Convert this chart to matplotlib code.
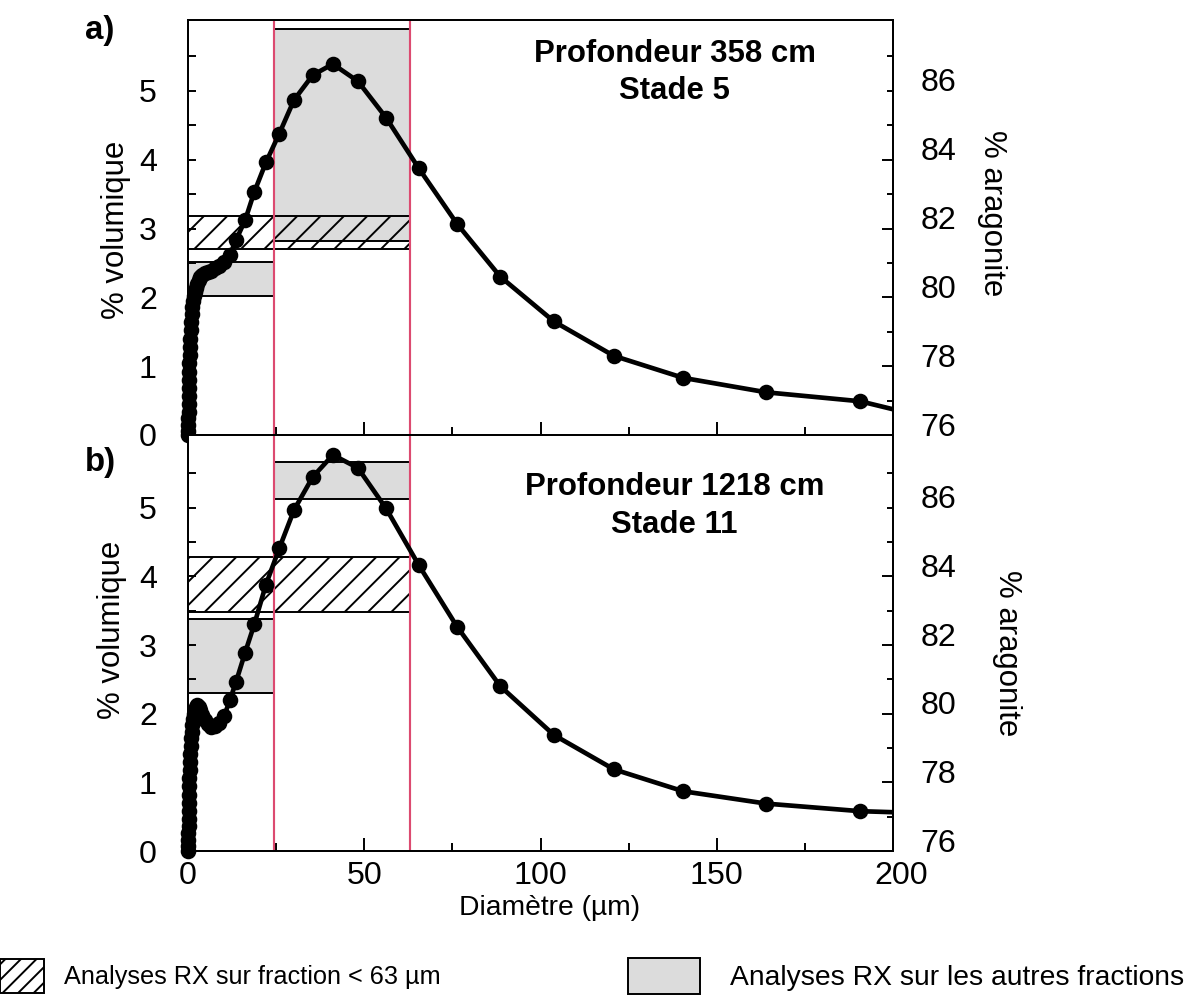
import numpy as np
import matplotlib
matplotlib.use("Agg")
import matplotlib.pyplot as plt
from matplotlib.patches import Rectangle, Patch
from matplotlib.transforms import ScaledTranslation

plt.rcParams['font.family'] = ['Liberation Sans', 'DejaVu Sans']
plt.rcParams['hatch.linewidth'] = 1.0

# diametres des classes (um)
diam = [0.08, 0.1, 0.12, 0.14, 0.16, 0.19, 0.22, 0.26, 0.3, 0.35, 0.41, 0.48,
        0.56, 0.65, 0.76, 0.88, 1.03, 1.2, 1.4, 1.63, 1.9, 2.2, 2.57, 3.0,
        3.5, 4.1, 4.8, 5.6, 6.5, 7.6, 8.8, 10.2, 11.9, 13.6, 16.2, 18.8,
        22.1, 25.9, 30.1, 35.4, 41.1, 48.2, 56.2, 65.4, 76.3, 88.6, 103.8,
        120.8, 140.5, 164.1, 190.7, 222.0]

# % volumique, profondeur 358 cm
vol_358 = [0.0, 0.06, 0.14, 0.24, 0.34, 0.45, 0.56, 0.68, 0.8, 0.92, 1.04, 1.16,
           1.28, 1.4, 1.52, 1.64, 1.76, 1.86, 1.95, 2.02, 2.08, 2.14, 2.2, 2.25,
           2.29, 2.32, 2.35, 2.37, 2.39, 2.42, 2.46, 2.52, 2.62, 2.83, 3.12, 3.53,
           3.96, 4.38, 4.87, 5.23, 5.39, 5.14, 4.61, 3.88, 3.07, 2.30, 1.65,
           1.15, 0.83, 0.62, 0.49, 0.10]

# % volumique, profondeur 1218 cm
vol_1218 = [0.0, 0.07, 0.16, 0.26, 0.36, 0.47, 0.58, 0.7, 0.82, 0.94, 1.06, 1.18,
            1.3, 1.42, 1.53, 1.64, 1.74, 1.84, 1.93, 2.0, 2.06, 2.1, 2.12, 2.1,
            2.05, 1.98, 1.91, 1.85, 1.81, 1.82, 1.87, 1.96, 2.2, 2.46, 2.89, 3.3,
            3.88, 4.41, 4.97, 5.45, 5.77, 5.58, 4.99, 4.17, 3.27, 2.40, 1.69,
            1.19, 0.87, 0.69, 0.58, 0.53]

# limites des fractions (um)
limits = [24.5, 63]

# analyses RX: (diam min, diam max, % aragonite min, % aragonite max)
gray_358 = [(0, 24.5, 80.05, 81.03), (24.5, 63, 81.64, 87.8)]
hatch_358 = [(0, 63, 81.4, 82.36)]
gray_1218 = [(24.5, 63, 86.26, 87.34), (0, 24.5, 80.6, 82.76)]
hatch_1218 = [(0, 63, 82.96, 84.58)]

titles = ["Profondeur 358 cm\nStade 5", "Profondeur 1218 cm\nStade 11"]
letters = ["a)", "b)"]

W, H, DPI = 1195, 998, 140
fig = plt.figure(figsize=(W / DPI, H / DPI), dpi=DPI)

def fx(px):
    return px / W

def fy(py):
    return 1 - py / H

panels = [
    dict(top=20, bot=435, vol=vol_358, gray=gray_358, hatch=hatch_358, vmax=6.03, ty=0.955),
    dict(top=435, bot=851, vol=vol_1218, gray=gray_1218, hatch=hatch_1218, vmax=6.06, ty=0.91),
]

d = np.array(diam)
red = '#dc4a70'
for i, p in enumerate(panels):
    ax = fig.add_axes([fx(188), fy(p['bot']), fx(893) - fx(188), fy(p['top']) - fy(p['bot'])])
    ax2 = ax.twinx()
    ax.set_xlim(0, 200)
    ax.set_ylim(0, p['vmax'])
    ax2.set_ylim(76, 76 + 2 * p['vmax'])

    for x0, x1, a0, a1 in p['gray']:
        ax.add_patch(Rectangle((x0, a0), x1 - x0, a1 - a0, transform=ax2.transData,
                               facecolor='#dcdcdc', edgecolor='black', lw=1.0, zorder=1))
    for x0, x1, a0, a1 in p['hatch']:
        ax.add_patch(Rectangle((x0, a0), x1 - x0, a1 - a0, transform=ax2.transData,
                               facecolor='none', edgecolor='black', hatch='//', lw=1.0, zorder=1.5))
    for lim in limits:
        ax.axvline(lim, color=red, lw=1.1, zorder=2)

    v = np.array(p['vol'])
    ax.plot(d, v, color='black', lw=2.4, zorder=3)
    keep = d <= 200
    ax.plot(d[keep], v[keep], 'o', color='black', ms=7, zorder=4, clip_on=False)

    for sp in ax.spines.values():
        sp.set_linewidth(1.0)
    ax.set_yticks([0, 1, 2, 3, 4, 5])
    ax.set_yticks([0.5, 1.5, 2.5, 3.5, 4.5, 5.5], minor=True)
    ax.tick_params(axis='y', which='both', direction='in', length=4.2, width=1.0,
                   labelsize=16.5, pad=16)
    ax.set_xticks([0, 50, 100, 150, 200])
    ax.set_xticks([25, 75, 125, 175], minor=True)
    ax.tick_params(axis='x', which='major', direction='in', length=6.5, width=1.0,
                   labelsize=16.5, pad=5)
    ax.tick_params(axis='x', which='minor', direction='in', length=4, width=1.0)
    if i == 0:
        ax.tick_params(axis='x', labelbottom=False)
    else:
        last = ax.xaxis.get_major_ticks()[-1]
        last.label1.set_transform(last.label1.get_transform() +
                                  ScaledTranslation(8 / DPI, 0, fig.dpi_scale_trans))

    ax2.set_yticks([76, 78, 80, 82, 84])
    ax2.set_yticks([77, 79, 81, 83, 85, 86, 87], labels=['', '', '', '', '', '86', ''], minor=True)
    ax2.tick_params(axis='y', which='major', direction='in', length=5.5, width=1.0,
                    labelsize=16.5, pad=14)
    ax2.tick_params(axis='y', which='minor', direction='in', length=3, width=1.0,
                    labelsize=16.5, pad=14)
    off = ScaledTranslation(0, 11 / DPI, fig.dpi_scale_trans)
    for t in ax2.yaxis.get_major_ticks() + ax2.yaxis.get_minor_ticks():
        t.label2.set_transform(t.label2.get_transform() + off)

    ax.text(0.69, p['ty'], titles[i], transform=ax.transAxes, ha='center', va='top',
            fontsize=16, fontweight='bold', linespacing=1.32)

fig.text(fx(100), fy(30), letters[0], ha='center', va='center', fontsize=17, fontweight='bold')
fig.text(fx(100), fy(463), letters[1], ha='center', va='center', fontsize=17, fontweight='bold')
fig.text(fx(116), fy(230), "% volumique", rotation=90, ha='center', va='center', fontsize=16)
fig.text(fx(112), fy(630), "% volumique", rotation=90, ha='center', va='center', fontsize=16)
fig.text(fx(992), fy(213), "% aragonite", rotation=270, ha='center', va='center', fontsize=16)
fig.text(fx(1007), fy(653), "% aragonite", rotation=270, ha='center', va='center', fontsize=16)
fig.text(fx(550), fy(908), "Diamètre (µm)", ha='center', va='center', fontsize=14.5)

h1 = Patch(facecolor='white', edgecolor='black', hatch='///', lw=1.0)
h2 = Patch(facecolor='#dcdcdc', edgecolor='black', lw=1.0)
fig.legend(handles=[h1], labels=["Analyses RX sur fraction < 63 µm"], loc='center left',
           bbox_to_anchor=(0.0, fy(976)), frameon=False, fontsize=13, borderpad=0,
           borderaxespad=0, handlelength=1.75, handleheight=1.75, handletextpad=0.78)
fig.legend(handles=[h2], labels=["Analyses RX sur les autres fractions"], loc='center left',
           bbox_to_anchor=(fx(628), fy(976)), frameon=False, fontsize=14.5, borderpad=0,
           borderaxespad=0, handlelength=2.55, handleheight=1.6, handletextpad=1.05)

fig.savefig('out.png', dpi=DPI)
